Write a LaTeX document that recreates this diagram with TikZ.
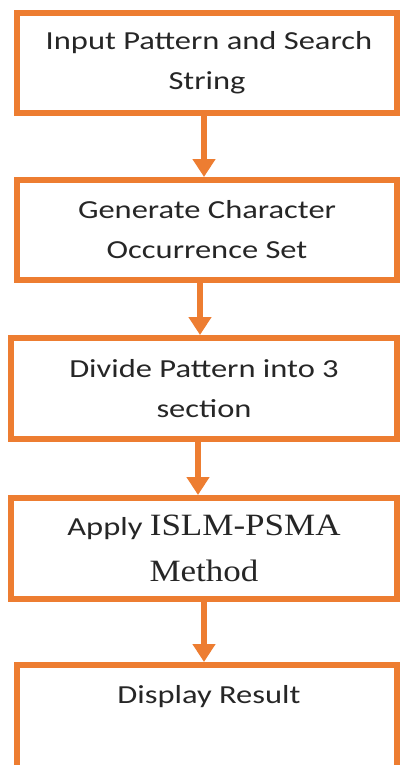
\documentclass[tikz,border=0pt]{standalone}
\usepackage{fontspec}
\setmainfont[FakeStretch=1.25]{Carlito}
\newfontfamily\serifx[FakeStretch=1.13]{Liberation Serif}
\usetikzlibrary{arrows.meta}
\definecolor{org}{HTML}{ED7D31}
\definecolor{txt}{HTML}{262626}
\begin{document}
\begin{tikzpicture}[x=1pt,y=-1pt,
  box/.style={draw=org,line width=6pt,rectangle,inner sep=0pt,align=center,
    font=\fontsize{26}{40}\selectfont,text=txt},
  lbl/.style={inner sep=0pt,font=\fontsize{26}{40}\selectfont,text=txt},
  arr/.style={draw=org,line width=6pt,-{Triangle[width=22pt,length=18pt]}}]
\useasboundingbox (0,0) rectangle (400,765);
\clip (0,0) rectangle (400,765);
\node[box,minimum width=380pt,minimum height=100pt] (b1) at (207,63)
  {\hspace*{4pt}Input Pattern and Search\\String};
\node[box,minimum width=380pt,minimum height=100pt] (b2) at (207,230)
  {Generate Character\\Occurrence Set};
\node[box,minimum width=386pt,minimum height=101pt] (b3) at (204,388.5)
  {Divide Pattern into 3\\section};
\node[box,minimum width=386pt,minimum height=101pt] (b4) at (204,548.5)
  {Apply {\serifx\fontsize{31}{40}\selectfont ISLM-PSMA}\\[6pt]{\serifx\fontsize{31}{40}\selectfont Method}};
\node[box,minimum width=380pt,minimum height=130pt] (b5) at (207,730) {};
\node[lbl,anchor=base] (t5) at (209,703) {Display Result};
\coordinate (x1) at (204,0);
\coordinate (x2) at (200,0);
\coordinate (x3) at (198,0);
\coordinate (x4) at (204,0);
\draw[arr] (b1.south -| x1) -- (b2.north -| x1);
\draw[arr] (b2.south -| x2) -- (b3.north -| x2);
\draw[arr] (b3.south -| x3) -- (b4.north -| x3);
\draw[arr] (b4.south -| x4) -- (b5.north -| x4);
\end{tikzpicture}
\end{document}
